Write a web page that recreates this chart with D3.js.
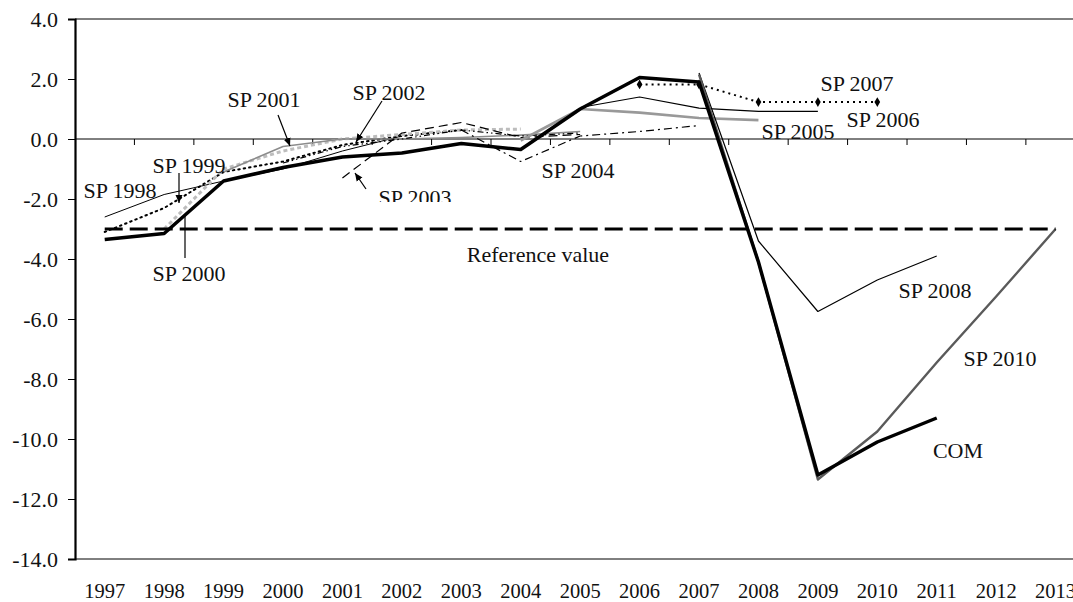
<!DOCTYPE html>
<html><head><meta charset="utf-8">
<script src="https://cdn.jsdelivr.net/npm/d3@7"></script>
<style>
body{margin:0;background:#fff}
svg{display:block}
text{font-family:"Liberation Serif","Times New Roman",serif;fill:#111}
</style>
</head><body>
<svg id="c" width="1073" height="602"></svg>
<script>
// ---- data ----
const years = [1997,1998,1999,2000,2001,2002,2003,2004,2005,2006,2007,2008,2009,2010,2011,2012,2013];
const yTicks = [4,2,0,-2,-4,-6,-8,-10,-12,-14];
const REF    = [-3,-3,-3,-3,-3,-3,-3,-3,-3,-3,-3,-3,-3,-3,-3,-3,-3];
const COM    = [-3.35,-3.15,-1.4,-0.95,-0.6,-0.47,-0.15,-0.35,1.0,2.05,1.9,-4.1,-11.2,-10.1,-9.3,null,null];
const SP1998 = [-2.6,-1.85,-1.4,-1.0,-0.4,0.1,null,null,null,null,null,null,null,null,null,null,null];
const SP1999 = [-3.1,-2.3,-1.1,-0.75,-0.2,0.1,0.3,null,null,null,null,null,null,null,null,null,null];
const SP2000 = [null,-3.0,-1.0,-0.4,0.0,0.15,0.3,0.33,null,null,null,null,null,null,null,null,null];
const SP2001 = [null,null,-1.1,-0.25,0.0,0.0,0.05,0.13,0.25,null,null,null,null,null,null,null,null];
const SP2002 = [null,null,null,-0.8,-0.25,0.0,0.3,0.1,0.2,null,null,null,null,null,null,null,null];
const SP2003 = [null,null,null,null,-1.3,0.2,0.55,0.05,0.15,null,null,null,null,null,null,null,null];
const SP2004 = [null,null,null,null,null,null,0.3,-0.75,0.1,0.25,0.45,null,null,null,null,null,null];
const SP2005 = [null,null,null,null,null,null,null,-0.05,1.0,0.88,0.7,0.63,null,null,null,null,null];
const SP2006 = [null,null,null,null,null,null,null,null,1.05,1.4,1.03,0.92,0.92,null,null,null,null];
const SP2007 = [null,null,null,null,null,null,null,null,null,1.82,1.82,1.23,1.23,1.23,null,null,null];
const SP2008 = [null,null,null,null,null,null,null,null,null,null,2.2,-3.4,-5.75,-4.7,-3.9,null,null];
const SP2010 = [null,null,null,null,null,null,null,null,null,null,2.15,-4.1,-11.35,-9.75,-7.45,-5.25,-3.0];

// ---- styles (kept apart from data) ----
const seriesList = [
  {v:SP1998, stroke:"#000", w:1, dash:null},
  {v:SP1999, stroke:"#000", w:2, dash:"1.5,4", cap:"round"},
  {v:SP2000, stroke:"#bdbdbd", w:3, dash:"4,3"},
  {v:SP2001, stroke:"#8c8c8c", w:1.6, dash:null},
  {v:SP2002, stroke:"#000", w:1.2, dash:"6,3,1.5,3,1.5,3"},
  {v:SP2003, stroke:"#000", w:1.2, dash:"9,5"},
  {v:SP2004, stroke:"#000", w:1.2, dash:"8,4,2,4"},
  {v:SP2005, stroke:"#999", w:2.6, dash:null},
  {v:SP2006, stroke:"#000", w:1.2, dash:null},
  {v:SP2007, stroke:"#000", w:2, dash:"2,4", markers:true},
  {v:SP2008, stroke:"#000", w:1.2, dash:null},
  {v:SP2010, stroke:"#5a5a5a", w:2.4, dash:null},
  {v:REF, stroke:"#000", w:3, dash:"18,7"},
  {v:COM, stroke:"#000", w:3.5, dash:null}
];

const svg = d3.select("#c");
const pLeft = 75, pTop = 19, pBottom = 559, step = 59.43;
const pRight = pLeft + step*years.length;

const x = d3.scaleBand().domain(years).range([pLeft, pRight]).padding(0);
const cx = yr => x(yr) + x.bandwidth()/2;
const y = d3.scaleLinear().domain([-14,4]).range([pBottom, pTop]);

const defs = svg.append("defs");
defs.append("marker")
  .attr("id","arr").attr("markerUnits","userSpaceOnUse")
  .attr("markerWidth",9).attr("markerHeight",9).attr("refX",8).attr("refY",4.5)
  .attr("orient","auto")
  .append("path").attr("d","M0,1 L8,4.5 L0,8 Z").attr("fill","#000");
defs.append("clipPath").attr("id","clip03")
  .append("rect").attr("x",0).attr("y",0).attr("width",1073).attr("height",202);

// plot border (top/bottom)
svg.append("line").attr("x1",pLeft).attr("x2",pRight).attr("y1",pTop).attr("y2",pTop).attr("stroke","#000").attr("stroke-width",1);
svg.append("line").attr("x1",pLeft).attr("x2",pRight).attr("y1",pBottom).attr("y2",pBottom).attr("stroke","#000").attr("stroke-width",1);

// zero line with category ticks
svg.append("line").attr("x1",pLeft).attr("x2",pRight).attr("y1",y(0)).attr("y2",y(0)).attr("stroke","#000").attr("stroke-width",1);
svg.append("g").selectAll("line").data(years.slice(1)).join("line")
  .attr("x1",d=>x(d)).attr("x2",d=>x(d)).attr("y1",y(0)).attr("y2",y(0)+6)
  .attr("stroke","#000").attr("stroke-width",1);

// y axis
const ya = svg.append("g").attr("transform",`translate(${pLeft},0)`)
  .call(d3.axisLeft(y).tickValues(yTicks).tickFormat(d=>d.toFixed(1)).tickSize(7).tickPadding(10));
ya.select(".domain").attr("stroke","#000").attr("stroke-width",2.2);
ya.selectAll(".tick line").attr("stroke","#000");
ya.selectAll("text").style("font-size","22px").attr("fill","#111");

// x axis labels
const xa = svg.append("g").attr("transform",`translate(0,${pBottom})`)
  .call(d3.axisBottom(x).tickSize(0).tickPadding(24));
xa.select(".domain").remove();
xa.selectAll("text").style("font-size","20.5px").attr("fill","#111");

// series
const line = d3.line().defined(d=>d.v!==null).x(d=>cx(d.yr)).y(d=>y(d.v));
seriesList.forEach(s=>{
  const pts = years.map((yr,i)=>({yr, v:s.v[i]}));
  svg.append("path").datum(pts).attr("d",line)
    .attr("fill","none").attr("stroke",s.stroke).attr("stroke-width",s.w)
    .attr("stroke-dasharray",s.dash).attr("stroke-linecap",s.cap||"butt")
    .attr("stroke-linejoin","round");
  if(s.markers){
    svg.append("g").selectAll("path").data(pts.filter(d=>d.v!==null)).join("path")
      .attr("transform",d=>`translate(${cx(d.yr)},${y(d.v)})`)
      .attr("d",d3.symbol(d3.symbolDiamond,28)).attr("fill","#000");
  }
});

// annotations
const labels = [
  {t:"SP 1998", x:120, y:198},
  {t:"SP 1999", x:189, y:173},
  {t:"SP 2000", x:189, y:281},
  {t:"SP 2001", x:264, y:107},
  {t:"SP 2002", x:389, y:100},
  {t:"SP 2003", x:415, y:205, clip:true},
  {t:"SP 2004", x:578, y:178},
  {t:"SP 2005", x:798, y:139},
  {t:"SP 2006", x:883, y:127},
  {t:"SP 2007", x:857, y:91},
  {t:"SP 2008", x:935, y:298},
  {t:"SP 2010", x:1000, y:366},
  {t:"COM", x:958, y:458},
  {t:"Reference value", x:538, y:262}
];
labels.forEach(l=>{
  const t = svg.append("text").attr("x",l.x).attr("y",l.y).attr("text-anchor","middle")
    .style("font-size","22px").text(l.t);
  if(l.clip) t.attr("clip-path","url(#clip03)");
});

const arrows = [
  {x1:278,y1:115,x2:290,y2:146,head:true},
  {x1:179,y1:173,x2:179,y2:203,head:true},
  {x1:185,y1:258,x2:185,y2:216,head:false},
  {x1:382,y1:101,x2:356,y2:142,head:true},
  {x1:366,y1:189,x2:355,y2:173,head:true}
];
arrows.forEach(a=>{
  const l = svg.append("line").attr("x1",a.x1).attr("y1",a.y1).attr("x2",a.x2).attr("y2",a.y2)
    .attr("stroke","#000").attr("stroke-width",1.2);
  if(a.head) l.attr("marker-end","url(#arr)");
});
</script>
</body></html>
